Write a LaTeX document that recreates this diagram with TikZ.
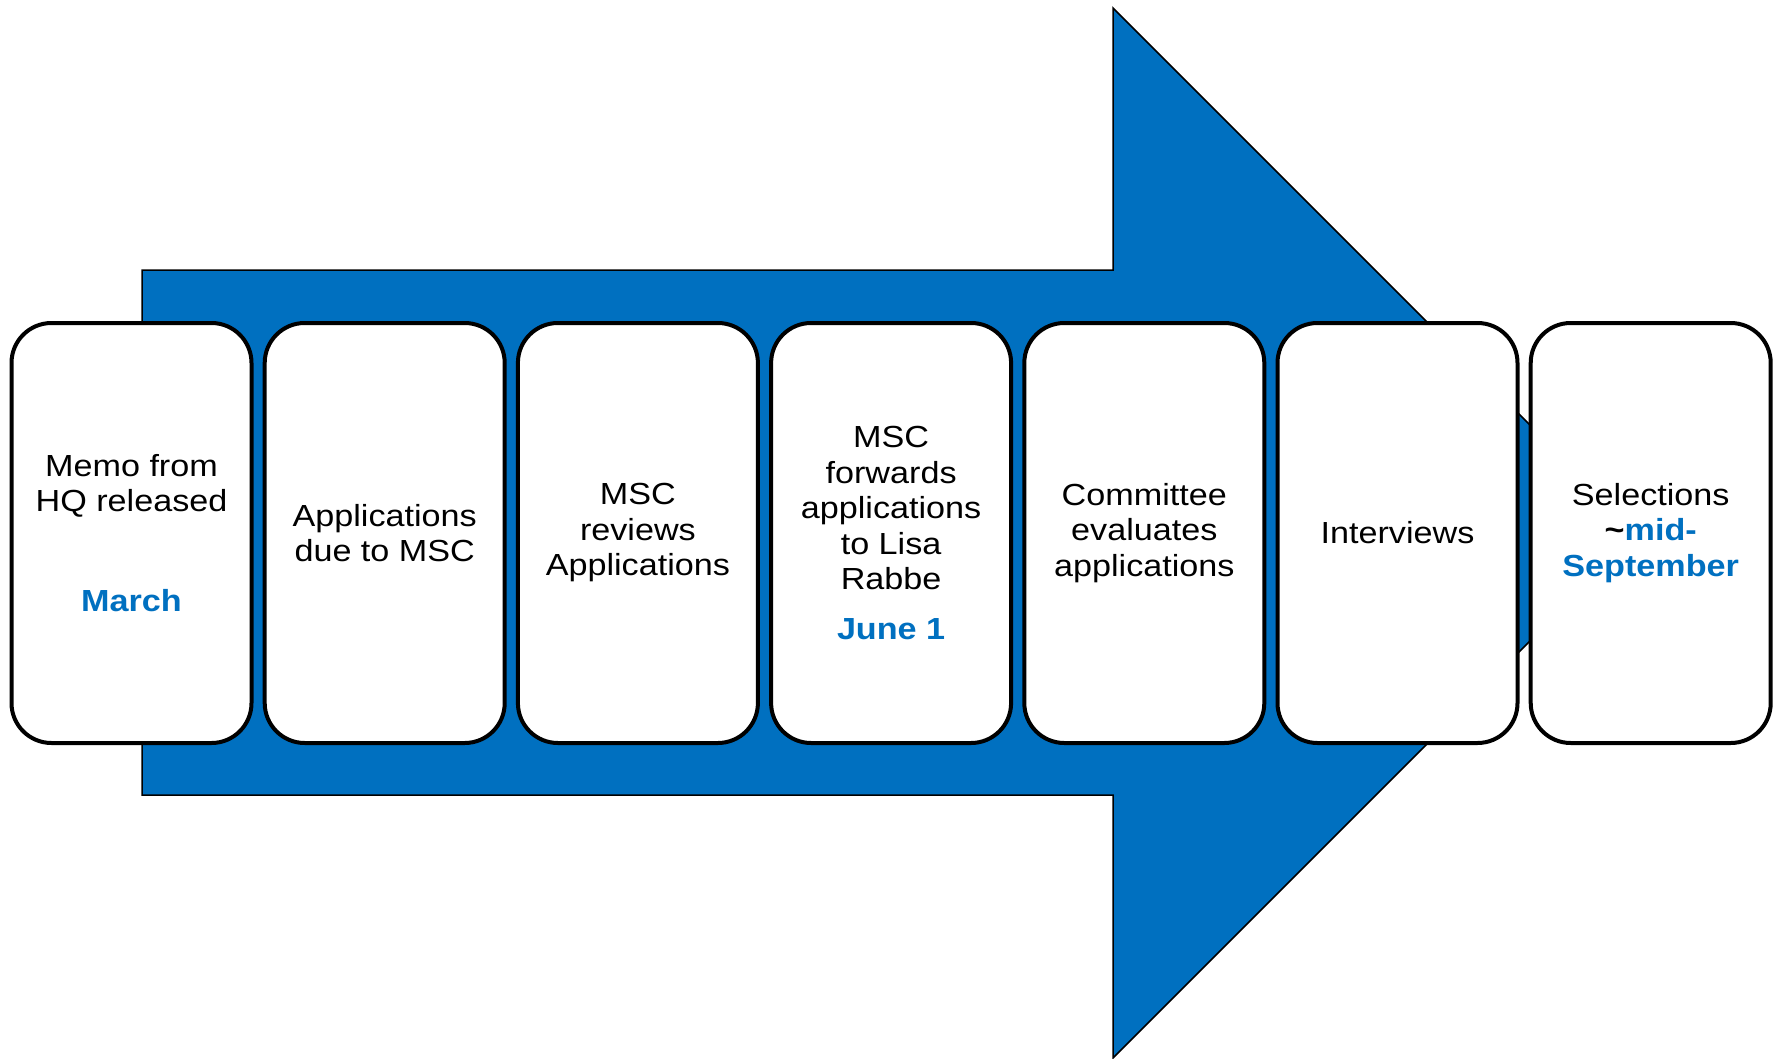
\documentclass[tikz,border=0pt]{standalone}
\usepackage{fontspec}
\setmainfont{Liberation Sans}[FakeStretch=1.12]
\definecolor{arrowblue}{HTML}{0070C0}
\begin{document}
\begin{tikzpicture}[x=1pt,y=-1pt,
  stepbox/.style={draw=black, line width=4pt, fill=white, rounded corners=40pt,
    minimum width=240pt, minimum height=420pt, inner sep=0pt, align=center,
    font=\fontsize{30.5}{35.5}\selectfont}]
\useasboundingbox (0,0) rectangle (1779,1059);
\draw[fill=arrowblue, draw=black, line width=1.5pt]
  (142,270) -- (1113,270) -- (1113,8) -- (1638,533) -- (1113,1058) -- (1113,795) -- (142,795) -- cycle;
\newcommand{\bl}[1]{\textcolor{arrowblue}{\textbf{#1}}}
\node[stepbox] (s1) at (131.5,533) {Memo from\\HQ released\\[64pt]\bl{March}};
\node[stepbox] (s2) at (384.7,533) {Applications\\due to MSC};
\node[stepbox] (s3) at (637.9,533) {MSC\\reviews\\Applications};
\node[stepbox] (s4) at (891.1,533) {MSC\\forwards\\applications\\to Lisa\\Rabbe\\[14pt]\bl{June 1}};
\node[stepbox] (s5) at (1144.3,533) {Committee\\evaluates\\applications};
\node[stepbox] (s6) at (1397.5,533) {Interviews};
\node[stepbox] (s7) at (1650.7,533) {Selections\\\textbf{\textasciitilde}\bl{mid-}\\\bl{September}};
\end{tikzpicture}
\end{document}
